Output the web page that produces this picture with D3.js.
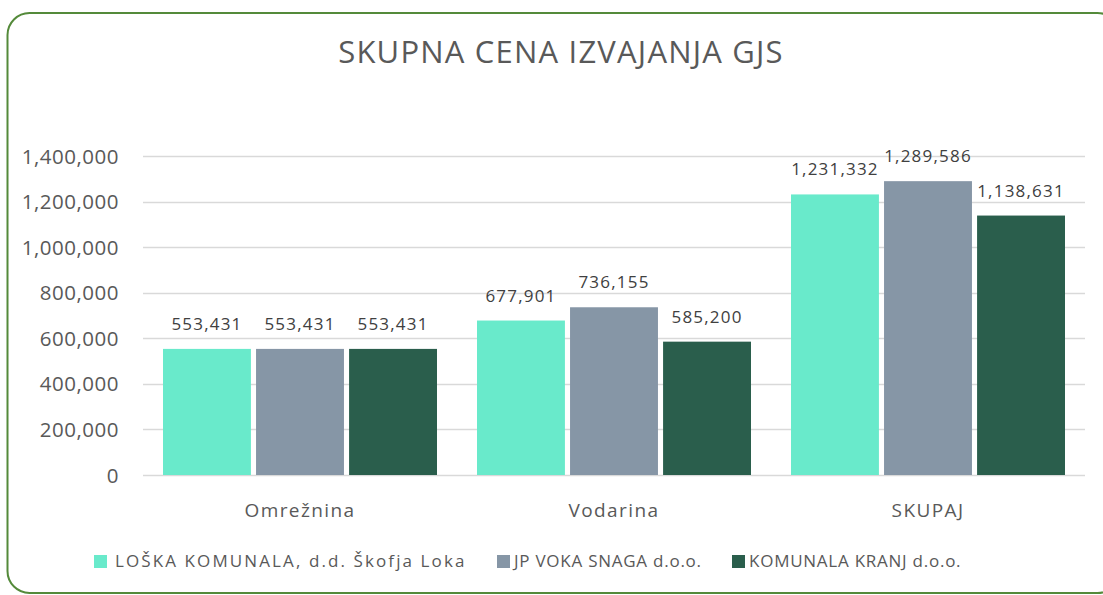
<!DOCTYPE html>
<html>
<head>
<meta charset="utf-8">
<script src="https://cdn.jsdelivr.net/npm/d3@7"></script>
<style>
  body { margin: 0; background: #fff; overflow: hidden; }
  svg { display: block; font-family: "Open Sans", sans-serif; }
</style>
</head>
<body>
<div id="chart"></div>
<script>
// Chart data
const categories = ["Omrežnina", "Vodarina", "SKUPAJ"];
const seriesNames = ["LOŠKA KOMUNALA, d.d. Škofja Loka", "JP VOKA SNAGA d.o.o.", "KOMUNALA KRANJ d.o.o."];
const loska = [553431, 677901, 1231332];
const voka = [553431, 736155, 1289586];
const kranj = [553431, 585200, 1138631];
const yTicks = [0, 200000, 400000, 600000, 800000, 1000000, 1200000, 1400000];

const seriesValues = [loska, voka, kranj];
const colors = ["#69EACB", "#8696A6", "#2A5E4C"];

const width = 1103;
const height = 595;
const margin = { top: 156, bottom: 120, left: 143, right: 18 };

const svg = d3.select("#chart")
  .append("svg")
  .attr("width", width)
  .attr("height", height);

// rounded green frame (runs off the right edge)
svg.append("rect")
  .attr("x", 7.5)
  .attr("y", 13)
  .attr("width", 1112)
  .attr("height", 580)
  .attr("rx", 22)
  .attr("fill", "none")
  .attr("stroke", "#548A3A")
  .attr("stroke-width", 2);

// title
svg.append("text")
  .attr("x", 561)
  .attr("y", 63)
  .attr("text-anchor", "middle")
  .attr("font-size", "31px")
  .attr("letter-spacing", "1.2px")
  .attr("fill", "#595959")
  .text("SKUPNA CENA IZVAJANJA GJS");

const x0 = d3.scaleBand()
  .domain(categories)
  .range([margin.left, width - margin.right]);

const x1 = d3.scaleBand()
  .domain(d3.range(seriesNames.length))
  .range([20, x0.bandwidth() - 20])
  .paddingInner(0.055);

const y = d3.scaleLinear()
  .domain([0, 1400000])
  .range([height - margin.bottom, margin.top]);

// gridlines
svg.append("g")
  .selectAll("line")
  .data(yTicks)
  .join("line")
    .attr("x1", margin.left)
    .attr("x2", width - margin.right)
    .attr("y1", d => Math.round(y(d)) + 0.5)
    .attr("y2", d => Math.round(y(d)) + 0.5)
    .attr("stroke", "#D9D9D9")
    .attr("stroke-width", 1.5);

// y axis labels
const fmt = d3.format(",");
svg.append("g")
  .selectAll("text")
  .data(yTicks)
  .join("text")
    .attr("x", 119)
    .attr("y", d => y(d) + 7.5)
    .attr("text-anchor", "end")
    .attr("font-size", "20.5px")
    .attr("letter-spacing", "0.5px")
    .attr("fill", "#595959")
    .text(d => fmt(d));

// bars
const groups = svg.append("g")
  .selectAll("g")
  .data(categories)
  .join("g")
    .attr("transform", d => `translate(${x0(d)},0)`);

groups.selectAll("rect")
  .data((c, ci) => seriesValues.map((s, si) => ({ si, v: s[ci] })))
  .join("rect")
    .attr("x", d => x1(d.si))
    .attr("y", d => y(d.v))
    .attr("width", x1.bandwidth())
    .attr("height", d => y(0) - y(d.v))
    .attr("fill", d => colors[d.si]);

groups.selectAll("text")
  .data((c, ci) => seriesValues.map((s, si) => ({ si, v: s[ci] })))
  .join("text")
    .attr("x", d => x1(d.si) + x1.bandwidth() / 2)
    .attr("y", d => y(d.v) - 19)
    .attr("text-anchor", "middle")
    .attr("font-size", "17px")
    .attr("letter-spacing", "1.2px")
    .attr("fill", "#404040")
    .text(d => fmt(d.v));

// category labels
svg.append("g")
  .selectAll("text")
  .data(categories)
  .join("text")
    .attr("x", d => x0(d) + x0.bandwidth() / 2)
    .attr("y", 517)
    .attr("text-anchor", "middle")
    .attr("font-size", "19px")
    .attr("letter-spacing", "1.4px")
    .attr("fill", "#595959")
    .text(d => d);

// legend
const legendX = [94, 497, 732];
const legendSpacing = [2.1, 0.75, 0.75];
const legend = svg.append("g")
  .selectAll("g")
  .data(seriesNames)
  .join("g")
    .attr("transform", (d, i) => `translate(${legendX[i]},555)`);

legend.append("rect")
  .attr("width", 13)
  .attr("height", 13)
  .attr("fill", (d, i) => colors[i]);

legend.append("text")
  .attr("x", (d, i) => i === 0 ? 21 : 17)
  .attr("y", 12)
  .attr("font-size", "17px")
  .attr("letter-spacing", (d, i) => legendSpacing[i] + "px")
  .attr("fill", "#595959")
  .text(d => d);
</script>
</body>
</html>
